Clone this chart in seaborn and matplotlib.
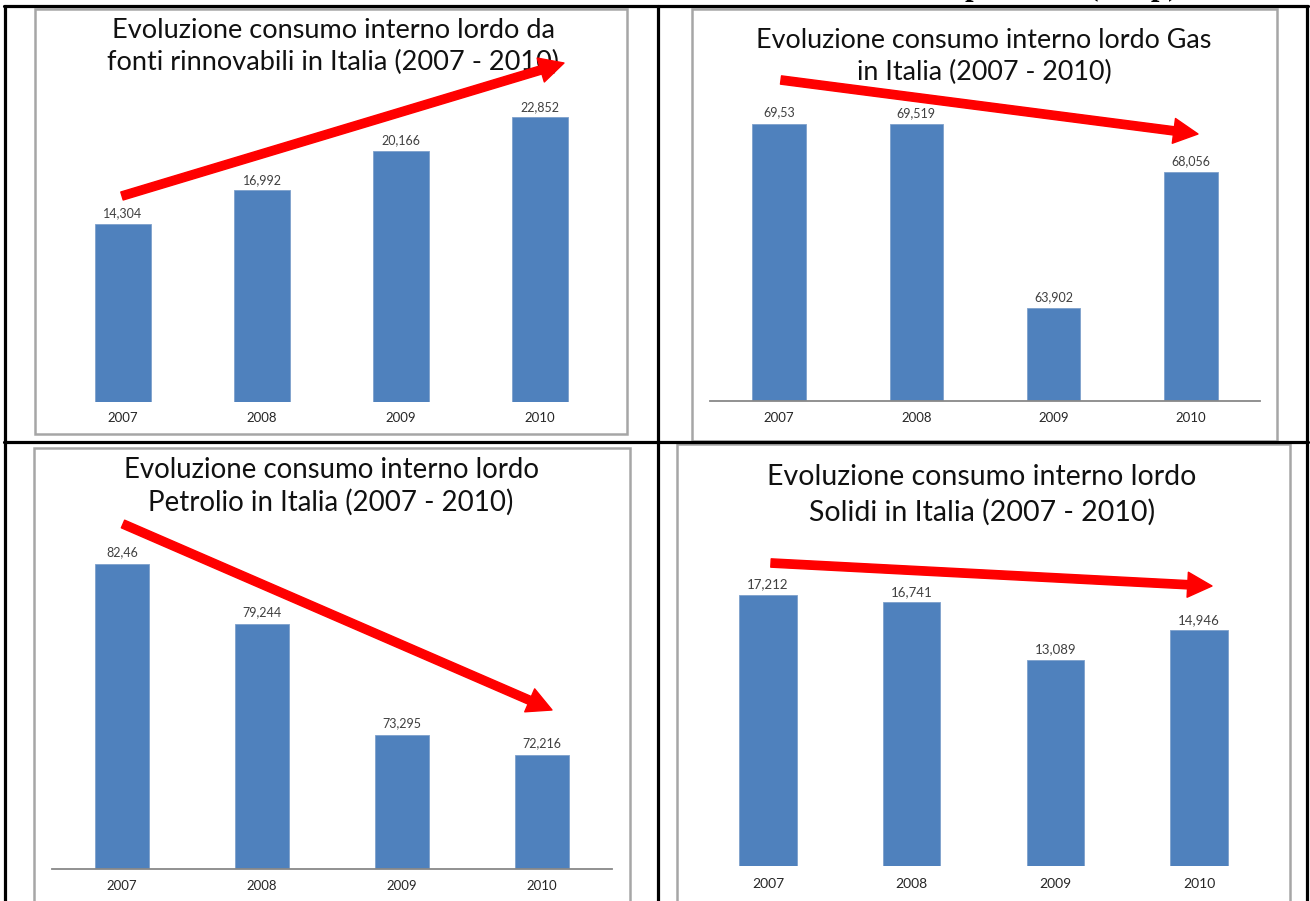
import numpy as np
import pandas as pd
import seaborn as sns
import matplotlib.pyplot as plt
from matplotlib.patches import Rectangle, FancyArrowPatch
from matplotlib.lines import Line2D

# data
years = ["2007", "2008", "2009", "2010"]
rinnovabili = [14.304, 16.992, 20.166, 22.852]
gas = [69.53, 69.519, 63.902, 68.056]
petrolio = [82.46, 79.244, 73.295, 72.216]
solidi = [17.212, 16.741, 13.089, 14.946]

title_rinnovabili = ["Evoluzione consumo interno lordo da", "fonti rinnovabili in Italia (2007 - 2010)"]
title_gas = ["Evoluzione consumo interno lordo Gas", "in Italia (2007 - 2010)"]
title_petrolio = ["Evoluzione consumo interno lordo", "Petrolio in Italia (2007 - 2010)"]
title_solidi = ["Evoluzione consumo interno lordo", "Solidi in Italia (2007 - 2010)"]

W, H = 1310, 901
BAR = "#4f81bd"

sns.set_style("white")
plt.rcParams["font.family"] = ["Lato", "DejaVu Sans"]


def fx(x):
    return x / W


def fy(y):
    return 1 - y / H


def it_label(v):
    return str(v).replace(".", ",")


def panel(fig, values, left, right, base, top, ymin, scale, width,
          axis_line, tick_pad, lab_pad, fs_tick=9.5, fs_val=9):
    ax = fig.add_axes([fx(left), fy(base), (right - left) / W, (base - top) / H])
    df = pd.DataFrame({"anno": years, "valore": values})
    sns.barplot(data=df, x="anno", y="valore", color=BAR, saturation=1,
                width=width, ax=ax, edgecolor="#7ea0cc", linewidth=0.6)
    ax.set_xlim(-0.5, 3.5)
    ax.set_ylim(ymin, ymin + (base - top) / scale)
    ax.bar_label(ax.containers[0], labels=[it_label(v) for v in values],
                 padding=lab_pad, fontsize=fs_val, color="#404040")
    ax.set_xlabel("")
    ax.set_ylabel("")
    ax.set_yticks([])
    ax.tick_params(axis="x", length=0, pad=tick_pad, labelsize=fs_tick,
                   labelcolor="#262626")
    ax.patch.set_alpha(0)
    for s in ["top", "left", "right"]:
        ax.spines[s].set_visible(False)
    if axis_line:
        ax.spines["bottom"].set_color("#888888")
        ax.spines["bottom"].set_linewidth(1.3)
    else:
        ax.spines["bottom"].set_visible(False)
    return ax


def title(fig, lines, cx, ys, fs):
    for line, y in zip(lines, ys):
        fig.text(fx(cx), fy(y), line, ha="center", va="center",
                 fontsize=fs, color="#111111")


def arrow(fig, start, end):
    a = FancyArrowPatch((fx(start[0]), fy(start[1])), (fx(end[0]), fy(end[1])),
                        transform=fig.transFigure,
                        arrowstyle="simple,head_length=1.75,head_width=1.8,tail_width=0.6",
                        mutation_scale=10, color="#ff0000", shrinkA=0, shrinkB=0,
                        zorder=10)
    fig.add_artist(a)


def frame(fig, x0, y0, x1, y1):
    r = Rectangle((fx(x0), fy(y1)), (x1 - x0) / W, (y1 - y0) / H,
                  transform=fig.transFigure, fill=False,
                  edgecolor="#a6a6a6", linewidth=1.8, zorder=1)
    fig.add_artist(r)


fig = plt.figure(figsize=(W / 100, H / 100), dpi=100)

# gray chart frames
frame(fig, 35, 9, 627, 434)
frame(fig, 692, 9, 1277, 441)
frame(fig, 34, 448, 630, 915)
frame(fig, 677, 444, 1290, 915)

# table grid
lw = 2.3
for x in [5, 658, 1307]:
    fig.add_artist(Line2D([fx(x), fx(x)], [fy(6), fy(905)], color="black", lw=lw,
                          transform=fig.transFigure, zorder=5))
for y in [6, 441.5]:
    fig.add_artist(Line2D([fx(4), fx(1308)], [fy(y), fy(y)], color="black", lw=lw,
                          transform=fig.transFigure, zorder=5))

# heading of the page, cut off above the table as in the original
fig.text(fx(1178), fy(-4.5), "Evoluzione dei consumi delle fonti primarie (Mtep)",
         ha="right", va="baseline", fontsize=22, fontweight="bold",
         family=["Liberation Serif", "DejaVu Serif"], color="black")

panel(fig, rinnovabili, 53.5, 609.5, 402, 90, 0, 12.46, 0.4, False, 7, 3)
panel(fig, gas, 710.3, 1259.7, 401, 95, 61.07, 32.8, 0.39, True, 8, 3.5)
panel(fig, petrolio, 52, 612, 869, 530, 66.1, 18.65, 0.39, True, 8, 4)
panel(fig, solidi, 696.2, 1270.8, 866, 540, 0, 15.77, 0.4, False, 9, 3,
      fs_tick=10, fs_val=9.5)

title(fig, title_rinnovabili, 333, [31, 62], 19.5)
title(fig, title_gas, 984, [40, 72], 19.4)
title(fig, title_petrolio, 331, [470, 502], 19.9)
title(fig, title_solidi, 982, [477, 512], 20.5)

arrow(fig, (122, 196), (564, 63))
arrow(fig, (781, 80), (1198, 134))
arrow(fig, (123, 524), (552, 710))
arrow(fig, (771, 563), (1212, 586))

fig.savefig("out.png", dpi=100)
